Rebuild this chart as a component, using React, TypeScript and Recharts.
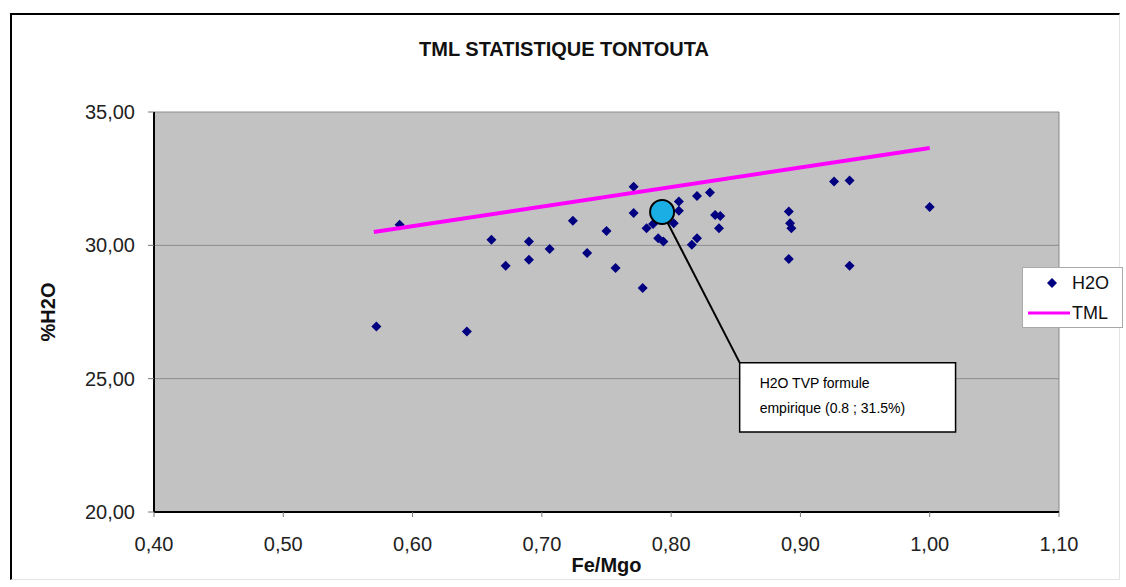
import { ScatterChart, Scatter, XAxis, YAxis, CartesianGrid, Legend, ReferenceDot, ReferenceLine, ReferenceArea } from "recharts";

const font = "'Liberation Sans', Arial, sans-serif";

// H2O measurements (Fe/Mgo, %H2O)
const feMgo = [
  0.572, 0.59, 0.642, 0.661, 0.672, 0.69, 0.69, 0.706, 0.724, 0.735, 0.75, 0.757, 0.771, 0.771, 0.778, 0.781,
  0.786, 0.79, 0.794, 0.802, 0.806, 0.806, 0.816, 0.82, 0.82, 0.83, 0.834, 0.838, 0.837, 0.891, 0.892, 0.893,
  0.891, 0.926, 0.938, 0.938, 1.0,
];
const h2o = [
  26.96, 30.77, 26.77, 30.21, 29.23, 30.14, 29.46, 29.86, 30.92, 29.71, 30.54, 29.15, 32.2, 31.21, 28.4, 30.64,
  30.8, 30.27, 30.14, 30.83, 31.64, 31.3, 30.02, 30.27, 31.85, 31.98, 31.14, 31.1, 30.64, 31.27, 30.83, 30.64,
  29.49, 32.39, 32.43, 29.23, 31.44,
];

// TML line
const tmlX = [0.57, 1.0];
const tmlY = [30.5, 33.65];

const xTicks = [0.4, 0.5, 0.6, 0.7, 0.8, 0.9, 1.0, 1.1];
const yTicks = [20, 25, 30, 35];

// TVP point + callout
const tvpPoint = { x: 0.793, y: 31.25 };
const calloutBox = { x1: 0.853, x2: 1.02, y1: 23.0, y2: 25.6 };
const calloutLines = ["H2O TVP formule", "empirique (0.8 ; 31.5%)"];

const h2oData = feMgo.map((x, i) => ({ x, y: h2o[i] }));
const tmlData = tmlX.map((x, i) => ({ x, y: tmlY[i] }));

const fmt = (v: number) => v.toFixed(2).replace(".", ",");

const Diamond = (props: any) => {
  const { cx, cy } = props;
  if (cx == null || cy == null) return <g />;
  return <polygon points={`${cx},${cy - 5} ${cx + 5},${cy} ${cx},${cy + 5} ${cx - 5},${cy}`} fill="#000080" />;
};

const LegendBox = () => (
  <svg width={101} height={61} style={{ display: "block" }}>
    <rect x={0.5} y={0.5} width={100} height={60} fill="#fff" stroke="#aaa" />
    <polygon points="30,11 35,16 30,21 25,16" fill="#000080" />
    <text x={50} y={16} dominantBaseline="central" fontSize={18} fontFamily={font} fill="#111">H2O</text>
    <line x1={6} x2={48} y1={46} y2={46} stroke="#FF00FF" strokeWidth={3} />
    <text x={50} y={46} dominantBaseline="central" fontSize={18} fontFamily={font} fill="#111">TML</text>
  </svg>
);

const renderCallout = (props: any) => {
  const { x, y } = props.viewBox;
  return (
    <g>
      {calloutLines.map((t, i) => (
        <text key={i} x={x + 20} y={y + 25 + i * 25} fontSize={14} fontFamily={font} fill="#000">
          {t}
        </text>
      ))}
    </g>
  );
};

const App = () => {
  return (
    <div style={{ position: "absolute", left: 0, top: 0, width: 1126, height: 587, overflow: "hidden", background: "#fff" }}>
      <div
        style={{
          position: "absolute", left: 10, top: 13, width: 1110, height: 567, boxSizing: "border-box",
          borderLeft: "2px solid #000", borderTop: "2px solid #000", borderRight: "1px solid #e4e4e4", borderBottom: "1px solid #e4e4e4",
        }}
      />
      <div
        style={{
          position: "absolute", left: 0, top: 39, width: 1128, textAlign: "center",
          fontFamily: font, fontWeight: "bold", fontSize: 20, lineHeight: "20px", color: "#111",
        }}
      >
        TML STATISTIQUE TONTOUTA
      </div>
      <div style={{ position: "absolute", left: 0, top: 0 }}>
        <ScatterChart width={1126} height={587} margin={{ top: 112, right: 67, bottom: 0, left: 0 }}>
          <CartesianGrid horizontal vertical={false} stroke="#8c8c8c" fill="#C2C2C2" fillOpacity={1} />
          <XAxis
            type="number" dataKey="x" domain={[0.4, 1.1]} ticks={xTicks} tickFormatter={fmt} height={75}
            tickSize={5} tickMargin={20} tick={{ fontSize: 20, fill: "#222", fontFamily: font }}
            axisLine={{ stroke: "#000", strokeWidth: 2 }} tickLine={{ stroke: "#777" }}
            label={{
              content: (p: any) => (
                <text x={p.viewBox.x + p.viewBox.width / 2} y={572} textAnchor="middle" fontSize={20} fontWeight="bold" fontFamily={font} fill="#111">
                  Fe/Mgo
                </text>
              ),
            }}
          />
          <YAxis
            type="number" dataKey="y" domain={[20, 35]} ticks={yTicks} tickFormatter={fmt} width={154}
            tickSize={6} tickMargin={13} tick={{ fontSize: 20, fill: "#222", fontFamily: font }}
            axisLine={{ stroke: "#000", strokeWidth: 2 }} tickLine={{ stroke: "#777" }}
            label={{
              content: (p: any) => {
                const cy = p.viewBox.y + p.viewBox.height / 2;
                return (
                  <text x={48} y={cy} transform={`rotate(-90 48 ${cy})`} textAnchor="middle" dominantBaseline="central" fontSize={20} fontWeight="bold" fontFamily={font} fill="#111">
                    %H2O
                  </text>
                );
              },
            }}
          />
          <ReferenceLine x={1.1} stroke="#888" strokeWidth={1} />
          <Scatter name="H2O" data={h2oData} shape={Diamond} isAnimationActive={false} />
          <Scatter
            name="TML" data={tmlData} line={{ stroke: "#FF00FF", strokeWidth: 4 }}
            shape={() => <g />} isAnimationActive={false}
          />
          <ReferenceLine
            segment={[{ x: tvpPoint.x, y: tvpPoint.y }, { x: calloutBox.x1, y: calloutBox.y2 }]}
            stroke="#000" strokeWidth={2}
          />
          <ReferenceArea
            x1={calloutBox.x1} x2={calloutBox.x2} y1={calloutBox.y1} y2={calloutBox.y2}
            fill="#fff" fillOpacity={1} stroke="#000" strokeWidth={1.5} label={renderCallout}
          />
          <ReferenceDot x={tvpPoint.x} y={tvpPoint.y} r={12} fill="#1AAEE5" stroke="#000" strokeWidth={2} />
          <Legend
            layout="horizontal" verticalAlign="middle" align="center" content={() => <LegendBox />}
            wrapperStyle={{ position: "absolute", left: 1022, top: 267, width: 101, height: 61 }}
          />
        </ScatterChart>
      </div>
    </div>
  );
};

export default App;
